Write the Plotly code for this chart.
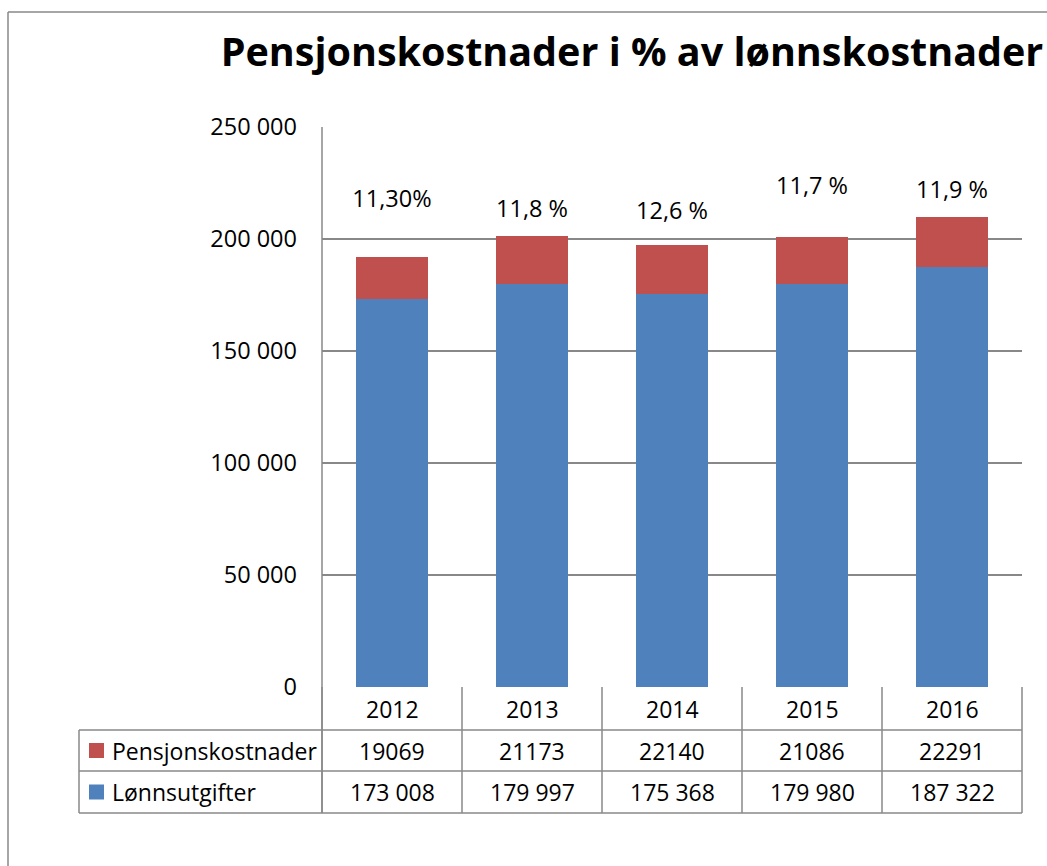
import plotly.graph_objects as go

# ---- data ----
years = ["2012", "2013", "2014", "2015", "2016"]
lonnsutgifter = [173008, 179997, 175368, 179980, 187322]
pensjonskostnader = [19069, 21173, 22140, 21086, 22291]
pct_labels = ["11,30%", "11,8 %", "12,6 %", "11,7 %", "11,9 %"]
pct_label_y = [216700, 212300, 211400, 222500, 220800]
y_ticks = [0, 50000, 100000, 150000, 200000, 250000]
title_text = "Pensjonskostnader i % av lønnskostnader"

# ---- layout geometry (pixels) ----
W, H = 1047, 866
L, R, T, B = 322, 1022, 127, 687
PW, PH = R - L, B - T
FONT = "Open Sans, Noto Sans, sans-serif"
FS = 23.5
FS_TABLE = 23
GRID = "#888888"
BLUE = "#4F81BD"
RED = "#C0504D"


def px(xp):
    return (xp - L) / PW


def py(yp):
    return (B - yp) / PH


fig = go.Figure()
fig.add_trace(go.Bar(x=years, y=lonnsutgifter, name="Lønnsutgifter",
                     marker=dict(color=BLUE, line=dict(width=0)), showlegend=False))
fig.add_trace(go.Bar(x=years, y=pensjonskostnader, name="Pensjonskostnader",
                     marker=dict(color=RED, line=dict(width=0)), showlegend=False))
fig.add_trace(go.Scatter(x=years, y=pct_label_y, mode="text", text=pct_labels,
                         textfont=dict(family=FONT, size=FS, color="black"),
                         showlegend=False, hoverinfo="skip"))

shapes = []


def line(x0, y0, x1, y1, color=GRID, w=1.5):
    shapes.append(dict(type="line", xref="paper", yref="paper",
                       x0=px(x0), y0=py(y0), x1=px(x1), y1=py(y1),
                       line=dict(color=color, width=w), layer="above"))


# outer chart border (left and top)
line(8, 12, 8, H + 5)
line(8, 12, W + 5, 12)

# data table grid
col_w = PW / len(years)
row_y = [B, 730, 771, 813]
for i in range(len(years) + 1):
    xx = L + i * col_w
    line(xx, B, xx, row_y[-1])
line(L, T, L, row_y[-1])
for yy in row_y[1:]:
    line(79, yy, R, yy)
line(79, row_y[1], 79, row_y[-1])

# legend keys in table
keys = [(RED, row_y[1], row_y[2]), (BLUE, row_y[2], row_y[3])]
for color, y0, y1 in keys:
    cy = (y0 + y1) / 2
    shapes.append(dict(type="rect", xref="paper", yref="paper",
                       x0=px(89), x1=px(104), y0=py(cy - 7.5), y1=py(cy + 7.5),
                       fillcolor=color, line=dict(width=0)))

annotations = []
series_rows = [("Pensjonskostnader", [str(v) for v in pensjonskostnader]),
               ("Lønnsutgifter", [f"{v:,}".replace(",", " ") for v in lonnsutgifter])]
# header
for i, yr in enumerate(years):
    annotations.append(dict(x=px(L + (i + 0.5) * col_w), y=py((row_y[0] + row_y[1]) / 2),
                            xref="paper", yref="paper", text=yr, showarrow=False,
                            font=dict(family=FONT, size=FS_TABLE, color="black"),
                            xanchor="center", yanchor="middle"))
for r, (name, vals) in enumerate(series_rows):
    cy = (row_y[r + 1] + row_y[r + 2]) / 2
    annotations.append(dict(x=px(110), y=py(cy), xref="paper", yref="paper", text=name,
                            showarrow=False, font=dict(family=FONT, size=FS_TABLE, color="black"),
                            xanchor="left", yanchor="middle"))
    for i, v in enumerate(vals):
        annotations.append(dict(x=px(L + (i + 0.5) * col_w), y=py(cy), xref="paper", yref="paper",
                                text=v, showarrow=False,
                                font=dict(family=FONT, size=FS_TABLE, color="black"),
                                xanchor="center", yanchor="middle"))

fig.update_layout(
    width=W, height=H,
    margin=dict(l=L, r=W - R, t=T, b=H - B, pad=0),
    paper_bgcolor="white", plot_bgcolor="white",
    barmode="stack", bargap=0.486,
    separators=", ",
    title=dict(text=title_text, x=632 / W, xanchor="center", y=1 - 52 / H, yanchor="middle",
               yref="container", font=dict(family=FONT, size=39.5, color="black", weight="bold")),
    xaxis=dict(type="category", range=[-0.5, len(years) - 0.5], showticklabels=False,
               showgrid=False, zeroline=False, showline=False, ticks=""),
    yaxis=dict(range=[0, 250000], tickvals=y_ticks, tickformat=",d",
               showgrid=True, gridcolor=GRID, gridwidth=1.5, zeroline=False,
               showline=False, ticks="", ticklabelstandoff=24,
               tickfont=dict(family=FONT, size=FS, color="black")),
    shapes=shapes,
    annotations=annotations,
    showlegend=False,
)

fig.write_html("out.html", config={"displayModeBar": False},
               post_script="document.body.style.margin='0px';")
